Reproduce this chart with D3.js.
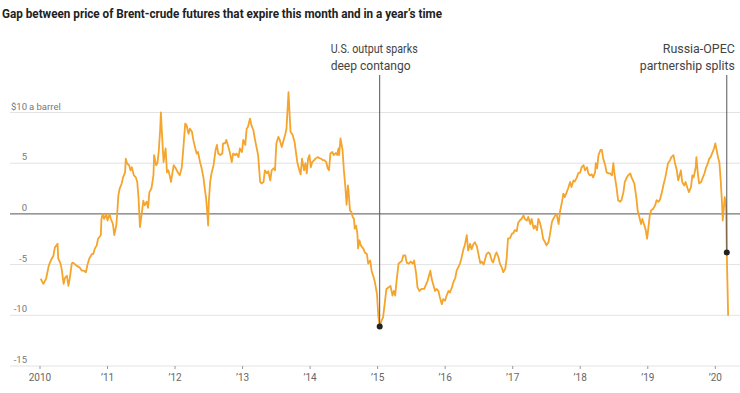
<!DOCTYPE html>
<html>
<head>
<meta charset="utf-8">
<script src="https://cdn.jsdelivr.net/npm/d3@7"></script>
<style>
  body { margin: 0; background: #fff; }
  svg text { font-family: Roboto, "Noto Sans", sans-serif; }
</style>
</head>
<body>
<div id="chart-area"></div>
<script>
const title = "Gap between price of Brent-crude futures that expire this month and in a year’s time";
const yTicks = [10, 5, 0, -5, -10, -15];
const yUnit = "a barrel";
const xTicks = [2010, 2011, 2012, 2013, 2014, 2015, 2016, 2017, 2018, 2019, 2020];
const xTickLabels = ["2010", "’11", "’12", "’13", "’14", "’15", "’16", "’17", "’18", "’19", "’20"];

// [decimal year, $ gap]
const gapSeries = [
  [2010.01,-6.4],[2010.05,-6.9],[2010.09,-6.4],[2010.13,-5.1],[2010.16,-4.6],[2010.20,-4.1],[2010.22,-3.3],
  [2010.25,-3.05],[2010.26,-2.95],[2010.27,-4.4],[2010.30,-4.8],[2010.32,-5.4],[2010.35,-6.9],[2010.37,-6.3],
  [2010.40,-6.1],[2010.42,-7.1],[2010.44,-6.4],[2010.47,-4.9],[2010.49,-4.8],[2010.54,-5.1],[2010.59,-5.3],
  [2010.62,-5.6],[2010.65,-5.6],[2010.68,-5.75],[2010.70,-5.1],[2010.73,-4.4],[2010.77,-3.95],[2010.79,-3.95],
  [2010.81,-3.45],[2010.84,-3.1],[2010.86,-2.45],[2010.90,-2.1],[2010.91,-0.5],[2010.93,0],[2010.95,-0.5],
  [2010.98,0],[2011.00,-0.65],[2011.03,0],[2011.05,-0.5],[2011.08,-1.0],[2011.10,-2.1],[2011.13,-1.1],
  [2011.14,-0.3],[2011.16,1.8],[2011.18,2.5],[2011.21,3.0],[2011.23,3.6],[2011.26,4.1],[2011.27,5.45],
  [2011.29,4.97],[2011.32,4.8],[2011.34,4.3],[2011.36,4.6],[2011.39,3.8],[2011.42,3.6],[2011.44,3.15],
  [2011.46,1.5],[2011.48,-1.3],[2011.51,0.2],[2011.53,1.3],[2011.55,0.85],[2011.58,1.2],[2011.60,0.6],
  [2011.62,2.15],[2011.65,2.5],[2011.68,3.8],[2011.69,5.8],[2011.72,4.8],[2011.74,5.0],[2011.76,6.3],
  [2011.78,8.4],[2011.79,10.0],[2011.81,7.45],[2011.83,5.1],[2011.84,5.6],[2011.86,6.45],[2011.88,4.1],
  [2011.90,4.3],[2011.92,3.8],[2011.94,3.15],[2011.96,4.0],[2011.98,4.8],[2012.01,4.5],[2012.04,4.1],
  [2012.07,3.8],[2012.10,4.6],[2012.13,7.1],[2012.15,8.9],[2012.17,8.75],[2012.20,7.9],[2012.22,8.4],
  [2012.25,8.1],[2012.27,7.3],[2012.30,6.45],[2012.32,5.95],[2012.34,6.1],[2012.37,5.1],[2012.39,4.6],
  [2012.42,3.6],[2012.44,2.5],[2012.46,1.5],[2012.48,-0.15],[2012.49,-1.15],[2012.50,1.2],[2012.52,3.15],
  [2012.54,4.0],[2012.57,4.8],[2012.60,6.3],[2012.62,6.8],[2012.64,5.95],[2012.67,5.8],[2012.70,5.95],
  [2012.71,6.95],[2012.74,6.95],[2012.76,7.3],[2012.79,6.6],[2012.81,6.1],[2012.84,5.1],[2012.86,5.95],
  [2012.89,5.8],[2012.91,5.95],[2012.94,5.6],[2012.96,6.45],[2012.99,6.1],[2013.01,7.3],[2013.04,6.8],
  [2013.06,8.4],[2013.08,8.6],[2013.11,9.4],[2013.13,8.75],[2013.16,8.25],[2013.18,7.45],[2013.21,6.45],
  [2013.23,5.8],[2013.26,3.15],[2013.28,3.0],[2013.31,3.15],[2013.33,4.3],[2013.36,4.0],[2013.38,4.2],
  [2013.41,3.3],[2013.43,4.3],[2013.46,4.5],[2013.48,4.3],[2013.50,6.95],[2013.53,7.6],[2013.55,7.3],
  [2013.58,6.6],[2013.60,7.1],[2013.63,7.8],[2013.65,8.4],[2013.68,12.0],[2013.69,10.7],[2013.71,8.1],
  [2013.74,7.8],[2013.77,7.1],[2013.79,6.1],[2013.81,5.1],[2013.84,4.3],[2013.86,3.9],[2013.88,5.45],
  [2013.91,4.3],[2013.93,5.0],[2013.95,4.0],[2013.97,5.45],[2013.99,5.8],[2014.01,4.6],[2014.03,5.1],
  [2014.06,5.3],[2014.08,5.45],[2014.11,5.6],[2014.14,5.5],[2014.16,5.45],[2014.19,5.3],[2014.21,5.3],
  [2014.24,5.1],[2014.26,4.5],[2014.28,4.3],[2014.30,5.95],[2014.33,6.1],[2014.35,5.8],[2014.38,6.0],
  [2014.40,5.8],[2014.42,6.45],[2014.43,5.8],[2014.45,7.45],[2014.48,6.3],[2014.50,4.3],[2014.52,2.8],
  [2014.54,0.9],[2014.56,2.8],[2014.57,2.15],[2014.59,0.35],[2014.61,0.2],[2014.63,-0.3],[2014.65,-0.5],
  [2014.66,-1.45],[2014.68,-1.15],[2014.70,-1.95],[2014.71,-3.4],[2014.73,-2.6],[2014.75,-3.1],[2014.79,-3.45],
  [2014.81,-3.8],[2014.84,-3.95],[2014.86,-4.9],[2014.89,-4.6],[2014.91,-5.6],[2014.94,-6.25],[2014.96,-6.75],
  [2014.99,-7.9],[2015.01,-10.05],[2015.03,-11.1],[2015.06,-10.5],[2015.08,-10.2],[2015.11,-8.55],[2015.13,-7.4],
  [2015.16,-7.25],[2015.19,-7.1],[2015.22,-8.05],[2015.24,-7.6],[2015.26,-8.05],[2015.28,-6.6],[2015.31,-4.9],
  [2015.33,-4.8],[2015.36,-4.6],[2015.38,-4.1],[2015.41,-4.1],[2015.43,-4.8],[2015.46,-4.9],[2015.49,-4.7],
  [2015.52,-4.9],[2015.54,-4.6],[2015.57,-5.9],[2015.59,-7.25],[2015.62,-7.6],[2015.65,-7.4],[2015.69,-7.4],
  [2015.72,-6.9],[2015.74,-6.6],[2015.78,-5.6],[2015.80,-6.4],[2015.82,-6.9],[2015.85,-7.6],[2015.87,-7.4],
  [2015.90,-7.6],[2015.92,-8.2],[2015.95,-8.9],[2015.97,-8.4],[2016.00,-8.55],[2016.02,-8.05],[2016.05,-7.6],
  [2016.07,-7.75],[2016.10,-7.25],[2016.12,-6.75],[2016.15,-6.3],[2016.17,-5.6],[2016.19,-5.3],[2016.22,-4.9],
  [2016.24,-4.4],[2016.27,-3.5],[2016.29,-3.1],[2016.32,-2.1],[2016.34,-3.6],[2016.37,-2.95],[2016.39,-3.5],
  [2016.42,-2.95],[2016.44,-2.8],[2016.47,-3.2],[2016.49,-3.9],[2016.52,-4.85],[2016.54,-4.7],[2016.57,-5.0],
  [2016.59,-4.5],[2016.61,-4.0],[2016.64,-3.8],[2016.66,-3.9],[2016.69,-4.6],[2016.71,-4.8],[2016.74,-4.1],
  [2016.76,-3.8],[2016.79,-4.3],[2016.81,-4.9],[2016.84,-5.3],[2016.86,-5.75],[2016.89,-5.4],[2016.91,-4.4],
  [2016.93,-2.45],[2016.96,-2.4],[2016.99,-1.95],[2017.01,-1.9],[2017.03,-1.6],[2017.06,-1.7],[2017.08,-0.9],
  [2017.11,-0.6],[2017.13,-0.5],[2017.16,-0.15],[2017.18,-0.5],[2017.21,-0.65],[2017.23,-0.3],[2017.26,-1.0],
  [2017.28,-0.5],[2017.31,-1.45],[2017.33,-1.15],[2017.36,-1.6],[2017.38,-0.5],[2017.40,-0.8],[2017.43,-1.6],
  [2017.45,-2.45],[2017.48,-2.8],[2017.50,-3.1],[2017.53,-2.8],[2017.55,-2.1],[2017.58,-0.8],[2017.60,-0.5],
  [2017.63,-0.15],[2017.65,0],[2017.68,-1.0],[2017.70,0.2],[2017.73,1.2],[2017.75,2.0],[2017.77,1.65],
  [2017.80,2.15],[2017.82,2.5],[2017.85,3.15],[2017.87,2.65],[2017.90,3.3],[2017.92,3.2],[2017.95,3.6],
  [2017.97,4.0],[2018.00,4.1],[2018.02,4.6],[2018.05,4.8],[2018.07,4.3],[2018.10,4.6],[2018.12,4.0],
  [2018.14,3.8],[2018.17,3.9],[2018.19,3.6],[2018.22,4.1],[2018.23,5.0],[2018.25,4.5],[2018.27,5.8],
  [2018.30,6.3],[2018.32,6.3],[2018.34,5.45],[2018.37,4.8],[2018.39,4.1],[2018.42,4.0],[2018.44,4.0],
  [2018.47,3.8],[2018.49,5.0],[2018.51,3.8],[2018.54,2.5],[2018.56,1.35],[2018.59,1.2],[2018.61,1.35],
  [2018.64,2.15],[2018.66,3.15],[2018.69,3.6],[2018.71,3.8],[2018.74,4.0],[2018.76,3.6],[2018.80,3.0],
  [2018.83,1.65],[2018.85,0.35],[2018.87,-0.15],[2018.90,-1.0],[2018.92,-0.5],[2018.95,-1.15],[2018.97,-1.6],
  [2018.99,-2.45],[2019.01,-1.3],[2019.03,-0.15],[2019.05,0.35],[2019.08,0.5],[2019.11,0.85],[2019.13,1.35],
  [2019.16,1.2],[2019.18,1.4],[2019.21,2.15],[2019.23,2.8],[2019.26,3.6],[2019.28,4.3],[2019.30,5.0],
  [2019.33,5.3],[2019.35,5.6],[2019.38,5.8],[2019.40,5.1],[2019.43,4.3],[2019.45,3.3],[2019.48,4.0],
  [2019.49,4.3],[2019.51,3.15],[2019.54,2.8],[2019.56,3.15],[2019.59,2.5],[2019.61,2.15],[2019.64,2.65],
  [2019.66,3.8],[2019.68,3.6],[2019.71,4.6],[2019.72,5.6],[2019.74,4.1],[2019.76,3.0],[2019.79,3.15],
  [2019.81,3.5],[2019.84,4.0],[2019.86,4.5],[2019.89,5.0],[2019.91,5.45],[2019.93,5.6],[2019.96,6.1],
  [2019.98,6.45],[2020.00,6.95],[2020.02,6.3],[2020.04,5.6],[2020.06,5.1],[2020.08,3.3],[2020.10,1.0],
  [2020.11,-0.65],[2020.13,0.85],[2020.14,1.65],[2020.16,0.65],[2020.17,-3.8],[2020.19,-10.05]
];

const events = [
  { year: 2015.03, value: -11.1, lines: ["U.S. output sparks", "deep contango"], widths: [87, 80], anchor: "start", dx: -49 },
  { year: 2020.17, value: -3.8, lines: ["Russia-OPEC", "partnership splits"], widths: [72, 95], anchor: "end", dx: 8 }
];

const svg = d3.select("#chart-area")
  .append("svg")
    .attr("width", 740)
    .attr("height", 393);

// Title
svg.append("text")
  .attr("x", 2)
  .attr("y", 18)
  .attr("font-size", "12.5px")
  .attr("font-weight", "bold")
  .attr("fill", "#222")
  .attr("textLength", 440)
  .attr("lengthAdjust", "spacingAndGlyphs")
  .text(title);

const x = d3.scaleLinear()
  .domain([2010, 2020])
  .range([40, 715.3]);

const y = d3.scaleLinear()
  .domain([-15, 10])
  .range([366, 112.5]);

// Gridlines
svg.selectAll(".grid")
  .data(yTicks)
  .enter()
  .append("line")
    .attr("x1", 10)
    .attr("x2", 740)
    .attr("y1", d => y(d))
    .attr("y2", d => y(d))
    .attr("stroke", d => d === 0 ? "#555" : "#e3e3e3")
    .attr("stroke-width", 1);

// Y labels
svg.selectAll(".ylabel")
  .data(yTicks)
  .enter()
  .append("text")
    .attr("x", 27)
    .attr("y", d => y(d) - 3)
    .attr("text-anchor", "end")
    .attr("font-size", "9.5px")
    .attr("fill", "#777")
    .text(d => d === 10 ? "$10" : d);

svg.append("text")
  .attr("x", 29)
  .attr("y", y(10) - 3)
  .attr("font-size", "9.5px")
  .attr("fill", "#777")
  .text(yUnit);

// X ticks and labels
xTicks.forEach(function(t, i){
  svg.append("line")
    .attr("x1", x(t)).attr("x2", x(t))
    .attr("y1", y(-15)).attr("y2", y(-15) + 3)
    .attr("stroke", "#999");
  svg.append("text")
    .attr("x", x(t))
    .attr("y", 381)
    .attr("text-anchor", "middle")
    .attr("font-size", "10px")
    .attr("fill", "#666")
    .text(xTickLabels[i]);
});

// Line
const line = d3.line()
  .x(d => x(d[0]))
  .y(d => y(d[1]));

svg.append("path")
  .datum(gapSeries)
  .attr("d", line)
  .attr("fill", "none")
  .attr("stroke", "#f5a42c")
  .attr("stroke-width", 1.8)
  .attr("stroke-linejoin", "round");

// Annotations
events.forEach(function(ev){
  const ex = x(ev.year);
  svg.append("line")
    .attr("x1", ex).attr("x2", ex)
    .attr("y1", 75).attr("y2", y(ev.value))
    .attr("stroke", "#555")
    .attr("stroke-width", 1);
  svg.append("circle")
    .attr("cx", ex)
    .attr("cy", y(ev.value))
    .attr("r", 3)
    .attr("fill", "#222");
  ev.lines.forEach(function(txt, j){
    svg.append("text")
      .attr("x", ex + ev.dx)
      .attr("y", 53 + j * 17)
      .attr("text-anchor", ev.anchor)
      .attr("font-size", "13px")
      .attr("fill", "#444")
      .attr("textLength", ev.widths[j])
      .attr("lengthAdjust", "spacingAndGlyphs")
      .text(txt);
  });
});
</script>
</body>
</html>
